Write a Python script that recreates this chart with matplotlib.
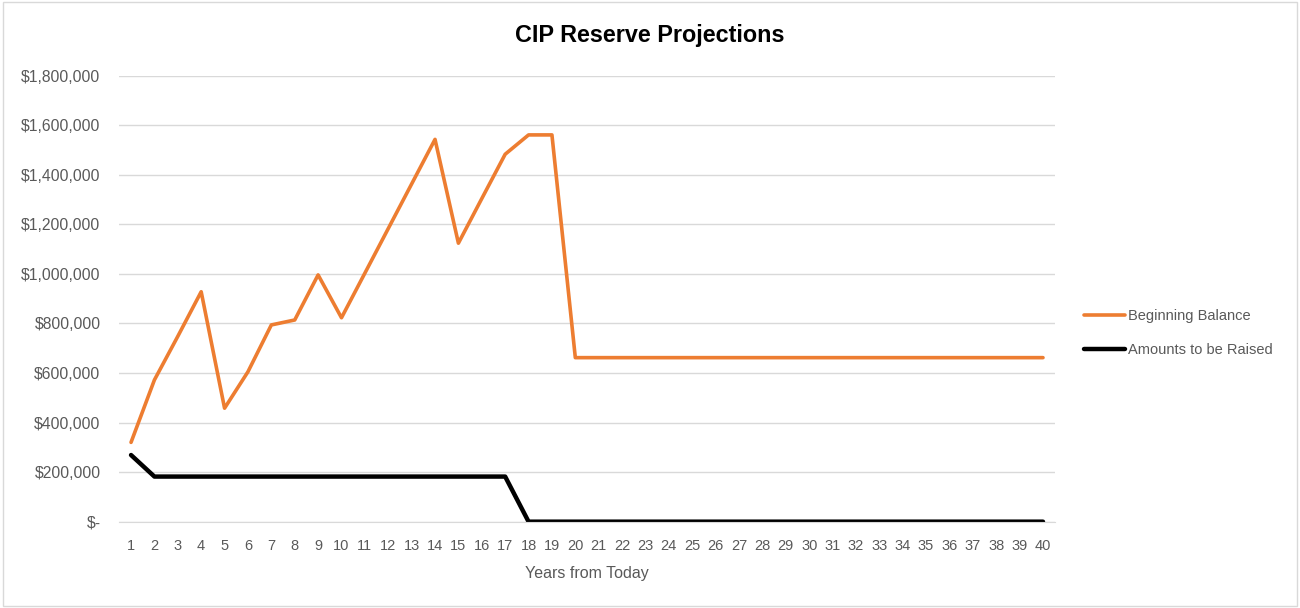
import matplotlib.pyplot as plt
from matplotlib.ticker import FuncFormatter
from matplotlib.patches import Rectangle

# data
years = list(range(1, 41))
beginning_balance = [320000, 572000, 748000, 928000, 458000, 605000, 794000, 814000, 996000, 823000,
                     1003000, 1183000, 1363000, 1543000, 1124000, 1304000, 1483000, 1561000, 1561000] + [662000] * 21
amounts_raised = [269000] + [182000] * 16 + [0] * 23
yticks = list(range(0, 1800001, 200000))

plt.rcParams['font.family'] = ['Liberation Sans', 'DejaVu Sans']

fig = plt.figure(figsize=(13, 6.08), dpi=100)
ax = fig.add_axes([0.0918, 0.142, 0.7195, 0.7335])

ax.plot(years, beginning_balance, color='#ED7D31', lw=2.6, label='Beginning Balance',
        solid_joinstyle='round', solid_capstyle='round')
ax.plot(years, amounts_raised, color='black', lw=3.2, label='Amounts to be Raised',
        solid_joinstyle='round', solid_capstyle='round')

ax.set_xlim(0.5, 40.5)
ax.set_ylim(0, 1800000)
ax.set_xticks(years)
ax.set_yticks(yticks)


def money(v, pos):
    if v == 0:
        return '$-'
    return '${:,.0f}'.format(v)


ax.yaxis.set_major_formatter(FuncFormatter(money))
ax.tick_params(axis='both', length=0, labelsize=10.5, colors='#595959')
ax.tick_params(axis='y', pad=13.5, labelsize=11.3)
ax.tick_params(axis='x', pad=12.5)

ax.grid(axis='y', color='#D9D9D9', lw=1)
ax.set_axisbelow(True)
for s in ['top', 'right', 'left']:
    ax.spines[s].set_visible(False)
ax.spines['bottom'].set_color('#D9D9D9')

ax.set_xlabel('Years from Today', fontsize=11.5, color='#595959', labelpad=9)
fig.text(0.5, 0.942, 'CIP Reserve Projections', fontsize=16.8, fontweight='bold',
         ha='center', va='center')

fig.legend(loc='center left', bbox_to_anchor=(0.824, 0.452), frameon=False,
           fontsize=10.5, labelcolor='#595959', handlelength=2.8, handletextpad=0.2,
           labelspacing=1.35)

# chart border
fig.patches.append(Rectangle((0.002, 0.003), 0.996, 0.994, transform=fig.transFigure,
                             fill=False, edgecolor='#D9D9D9', lw=1))

plt.savefig('out.png', dpi=100)
